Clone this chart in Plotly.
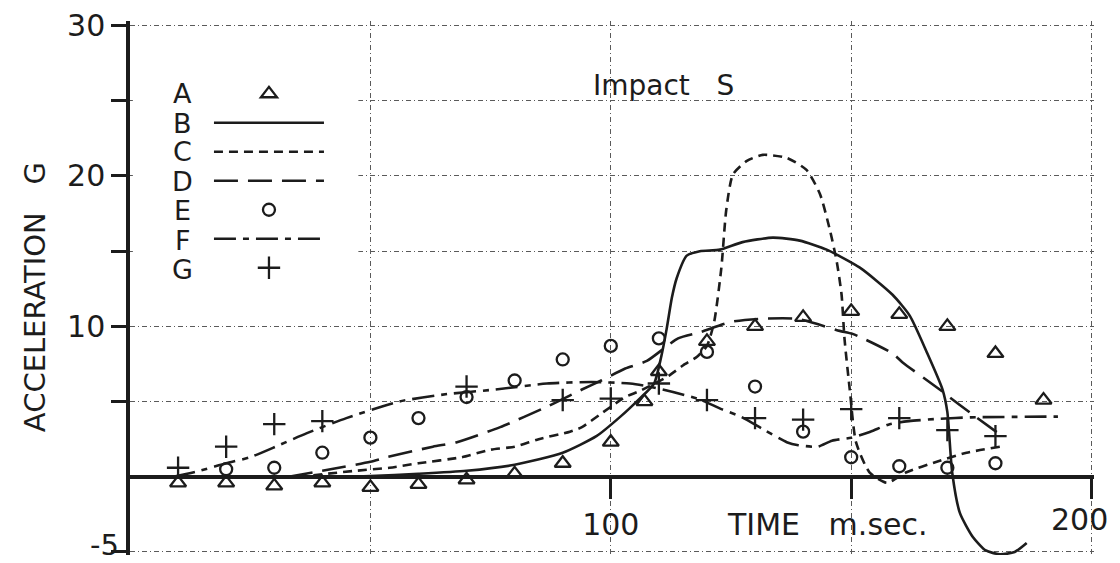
import plotly.graph_objects as go

# ---- data (time in ms, acceleration in G) ----
A_x = [10, 20, 30, 40, 50, 60, 70, 80, 90, 100, 107, 110, 120, 130, 140, 150, 160, 170, 180, 190]
A_y = [-0.4, -0.4, -0.6, -0.4, -0.7, -0.5, -0.2, 0.2, 0.9, 2.3, 5.0, 7.0, 9.0, 10.0, 10.6, 11.0, 10.8, 10.0, 8.2, 5.1]

B_x = [40, 50, 60, 70, 80, 90, 97, 102, 106, 109, 110.5, 111.6, 112.7, 113.7, 115.8, 118.5, 122.7,
       127.4, 133.7, 139.3, 144.9, 151.8, 158.6, 162.2, 165.7, 169, 170, 171, 172.6, 175.3, 178, 180.9, 184, 186.5]
B_y = [0, 0.05, 0.2, 0.4, 0.8, 1.6, 2.7, 4.0, 5.2, 6.2, 8.0, 9.8, 11.9, 13.2, 14.7, 15.0, 15.1,
       15.6, 15.9, 15.7, 15.1, 13.9, 12.1, 10.7, 8.3, 5.8, 4.3, 0.3, -2.4, -4.0, -4.9, -5.15, -5.0, -4.4]

C_x = [35, 47, 54, 60, 69, 75, 80, 85, 91.5, 94, 98, 103, 106, 112, 115, 118, 120, 121.5, 123, 124,
       125.4, 128.3, 131.6, 136.6, 140.7, 143.5, 145.5, 147, 148, 148.6, 149.7, 151, 153.8, 157.4,
       161.5, 167.8, 174, 181]
C_y = [0, 0.4, 0.6, 0.9, 1.3, 1.8, 2.0, 2.5, 3.0, 3.3, 4.2, 5.3, 5.7, 6.7, 7.4, 8.0, 8.7, 10.3, 13.9, 17.7,
       20.1, 21.0, 21.4, 21.2, 20.4, 18.8, 16.5, 14.3, 12.1, 9.2, 5.8, 2.3, 0.3, -0.4,
       0.3, 1.0, 1.6, 2.0]

D_x = [33, 40, 50, 53.4, 63, 68, 77, 87, 94, 98, 103, 107.5, 114, 118.5, 125, 131, 138.7, 147.6,
       150.3, 158.6, 160.7, 168.4, 170, 175, 181]
D_y = [0, 0.4, 1.0, 1.3, 2.0, 2.3, 3.3, 4.7, 5.8, 6.4, 7.2, 7.7, 9.2, 9.6, 10.3, 10.5, 10.5, 9.7,
       9.5, 8.2, 7.6, 5.8, 5.4, 4.2, 2.8]

E_x = [20, 30, 40, 50, 60, 70, 80, 90, 100, 110, 120, 130, 140, 150, 160, 170, 180]
E_y = [0.5, 0.6, 1.6, 2.6, 3.9, 5.3, 6.4, 7.8, 8.7, 9.2, 8.3, 6.0, 3.0, 1.3, 0.7, 0.6, 0.9]

F_x = [9, 14.5, 20, 25, 31, 36.8, 45, 56, 66, 76, 86.7, 96, 104, 108, 118, 123, 127, 132, 136.6,
       139, 143, 146, 150, 154, 158, 162, 168, 175, 193]
F_y = [0, 0.4, 0.9, 1.3, 2.1, 2.9, 3.9, 5.0, 5.5, 5.8, 6.2, 6.3, 6.2, 6.0, 5.2, 4.5, 4.0, 3.1, 2.3,
       2.1, 2.0, 2.4, 2.6, 3.0, 3.5, 3.7, 3.85, 3.95, 4.0]

G_x = [10, 20, 30, 40, 70, 90, 100, 110, 120, 130, 140, 150, 160, 170, 180]
G_y = [0.6, 2.0, 3.5, 3.7, 6.0, 5.1, 5.2, 6.2, 5.1, 3.9, 3.8, 4.5, 3.9, 3.1, 2.7]

series_names = ["A", "B", "C", "D", "E", "F", "G"]

x_tickvals = [100, 150, 200]
x_ticktext = ["100", "", ""]
y_tickvals = [-5, 5, 10, 15, 20, 25, 30]
y_ticktext = ["", "", "10", "", "20", "", "30"]

INK = "#1c1c1c"
FONT = "DejaVu Sans"

X_MAX = 200.5
Y_MIN, Y_MAX = -5.2, 30.3

# figure placed after the page's default 8px body margin
W, H = 1112, 555
L, T = 122, 12.7
PLOT_RIGHT = 1086.4
PLOT_BOTTOM = 547
R = W - PLOT_RIGHT
B = H - PLOT_BOTTOM
PLOT_W = PLOT_RIGHT - L
PLOT_H = PLOT_BOTTOM - T

fig = go.Figure()

def line_trace(x, y, dash):
    return go.Scatter(x=x, y=y, mode="lines", name=" ",
                      line=dict(color=INK, width=2.6, dash=dash, shape="spline", smoothing=0.6))

def marker_trace(x, y, symbol, size):
    return go.Scatter(x=x, y=y, mode="markers", name=" ", cliponaxis=False,
                      marker=dict(symbol=symbol, size=size, color=INK,
                                  line=dict(color=INK, width=2.3)))

fig.add_trace(marker_trace(A_x, A_y, "triangle-up-open", 14))
fig.add_trace(line_trace(B_x, B_y, "solid"))
fig.add_trace(line_trace(C_x, C_y, "9px,6px"))
fig.add_trace(line_trace(D_x, D_y, "24px,10px"))
fig.add_trace(marker_trace(E_x, E_y, "circle-open", 12))
fig.add_trace(line_trace(F_x, F_y, "22px,7px,6px,7px"))
fig.add_trace(marker_trace(G_x, G_y, "cross-thin-open", 16))

# white panel behind the legend (hides the grid there, as in the original)
fig.add_shape(type="rect", xref="x", yref="y", x0=0.6, x1=47.5, y0=12.4, y1=27.0,
              fillcolor="white", line=dict(width=0), layer="between")

# legend letters
letter_y = [25.5, 23.5, 21.6, 19.6, 17.7, 15.7, 13.75]
for name, ly in zip(series_names, letter_y):
    fig.add_annotation(x=11, y=ly, xref="x", yref="y", text=name, showarrow=False,
                       font=dict(family=FONT, size=27, color=INK), xanchor="center", yanchor="middle")

fig.add_annotation(x=111, y=26.0, xref="x", yref="y", text="Impact&nbsp;&nbsp;&nbsp;S",
                   showarrow=False, font=dict(family=FONT, size=28, color=INK))
fig.add_annotation(x=145, y=-3.2, xref="x", yref="y", text="TIME&nbsp;&nbsp;&nbsp;m.sec.",
                   showarrow=False, font=dict(family=FONT, size=30, color=INK))
fig.add_annotation(x=197.5, y=-2.85, xref="x", yref="y", text="200",
                   showarrow=False, font=dict(family=FONT, size=30, color=INK))
# "-5" label kept fully inside the page (bottom edge of the figure)
fig.add_annotation(x=(112 - L) / PLOT_W, y=(PLOT_BOTTOM - H) / PLOT_H, xref="paper", yref="paper",
                   text="-5", showarrow=False, xanchor="right", yanchor="bottom",
                   font=dict(family=FONT, size=29, color=INK), borderpad=0)
fig.add_annotation(x=(27 - L) / PLOT_W, y=(PLOT_BOTTOM - 289) / PLOT_H, xref="paper", yref="paper",
                   text="ACCELERATION&nbsp;&nbsp;&nbsp;G", showarrow=False, textangle=-90,
                   xanchor="center", yanchor="middle",
                   font=dict(family=FONT, size=29, color=INK))

grid = dict(gridcolor="#5a5a5a", gridwidth=1.1, griddash="5px,3px,1px,3px")

fig.update_layout(
    width=W, height=H,
    margin=dict(l=L, r=R, t=T, b=B, autoexpand=False),
    paper_bgcolor="white", plot_bgcolor="white",
    showlegend=True,
    legend=dict(x=(201 - L) / PLOT_W, y=(PLOT_BOTTOM - 66) / PLOT_H, xanchor="left", yanchor="top",
                bgcolor="rgba(0,0,0,0)",
                font=dict(family=FONT, size=20, color=INK), tracegroupgap=0,
                itemwidth=110, itemsizing="trace"),
    xaxis=dict(range=[0, X_MAX], anchor="free", position=(0 - Y_MIN) / (Y_MAX - Y_MIN),
               automargin=False,
               tickmode="array", tickvals=x_tickvals, ticktext=x_ticktext,
               ticks="outside", ticklen=21, tickwidth=3, tickcolor=INK,
               tickfont=dict(family=FONT, size=30, color=INK),
               showline=False, zeroline=False, showgrid=True,
               minor=dict(tickmode="array", tickvals=[50], showgrid=True, ticks="",
                          gridcolor="#5a5a5a", gridwidth=1.1, griddash="5px,3px,1px,3px"),
               **grid),
    yaxis=dict(range=[Y_MIN, Y_MAX], automargin=False,
               tickmode="array", tickvals=y_tickvals, ticktext=y_ticktext,
               ticks="outside", ticklen=15, tickwidth=3, tickcolor=INK,
               tickfont=dict(family=FONT, size=30, color=INK),
               showline=True, linewidth=3.5, linecolor=INK,
               zeroline=True, zerolinewidth=3.5, zerolinecolor=INK,
               showgrid=True, **grid),
)

fig.write_html("out.html")
